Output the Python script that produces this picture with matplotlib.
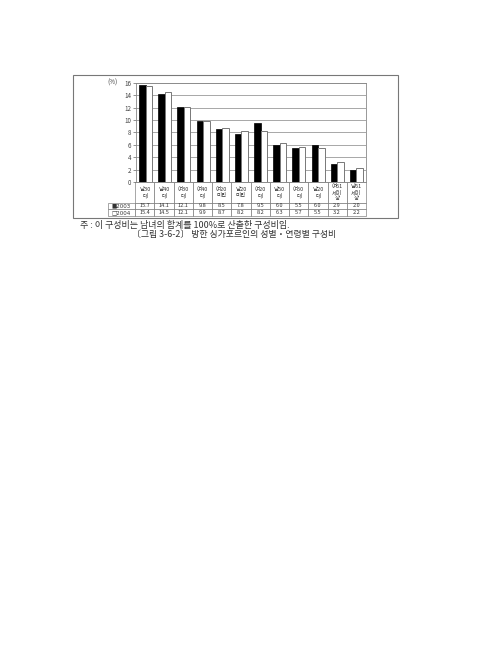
import numpy as np
import matplotlib
matplotlib.use("Agg")
import matplotlib.pyplot as plt
from matplotlib.patches import Rectangle

plt.rcParams['font.family'] = ['Noto Sans CJK KR', 'DejaVu Sans']

categories = ["남30\n대", "남40\n대", "여30\n대", "여40\n대", "여20\n미만", "남20\n미만",
              "여20\n대", "남50\n대", "여50\n대", "남20\n대", "여61\n세이\n상", "남61\n세이\n상"]
vals_2003 = [15.7, 14.1, 12.1, 9.8, 8.5, 7.8, 9.5, 6.0, 5.5, 6.0, 2.9, 2.0]
vals_2004 = [15.4, 14.5, 12.1, 9.9, 8.7, 8.2, 8.2, 6.3, 5.7, 5.5, 3.2, 2.2]
series_labels = ["■2003", "□2004"]
yticks = [0, 2, 4, 6, 8, 10, 12, 14, 16]

W, H = 480, 657
fig = plt.figure(figsize=(W / 100, H / 100), dpi=100)

# plot area in pixel coords of the page
px_l, px_r, px_t, px_b = 136, 366, 82.7, 182
ax = fig.add_axes([px_l / W, 1 - px_b / H, (px_r - px_l) / W, (px_b - px_t) / H])

x = np.arange(len(categories))
bw = 0.34
ax.bar(x - bw / 2, vals_2003, bw, color="black", edgecolor="black", linewidth=0.5, zorder=3)
ax.bar(x + bw / 2, vals_2004, bw, color="white", edgecolor="#777777", linewidth=0.7, zorder=3)

ax.set_xlim(-0.5, len(categories) - 0.5)
ax.set_ylim(0, 16)
ax.set_yticks(yticks)
ax.set_yticklabels([str(t) for t in yticks], fontsize=4.5, color="#444444")
ax.set_xticks([])
ax.tick_params(axis="y", length=2, width=0.5, pad=1.5, color="#666666")
ax.grid(axis="y", color="#999999", linewidth=0.6, zorder=0)
for s in ax.spines.values():
    s.set_color("#888888")
    s.set_linewidth(0.6)
ax.text(-0.078, 16, "(%)", transform=ax.get_yaxis_transform(), ha="right", va="center",
        fontsize=4.5, color="#444444")

# data table under the chart (first column holds the series labels)
tbl_l, tbl_b = 108, 215.7
ax_w, ax_h = px_r - px_l, px_b - px_t
cell_text = [[series_labels[0]] + [f"{v:.1f}" for v in vals_2003],
             [series_labels[1]] + [f"{v:.1f}" for v in vals_2004]]
tbl = ax.table(cellText=cell_text, colLabels=[""] + categories, cellLoc="center",
               bbox=[(tbl_l - px_l) / ax_w, -(tbl_b - px_b) / ax_h,
                     (px_r - tbl_l) / ax_w, (tbl_b - px_b) / ax_h])
tbl.auto_set_font_size(False)
tbl.set_fontsize(4)
for (r, c), cell in tbl.get_celld().items():
    cell.set_linewidth(0.4)
    cell.set_edgecolor("#666666")
    cell.get_text().set_color("#333333")
    cell.set_width(27 if c == 0 else 19.2)
    cell.set_height(20.7 if r == 0 else 6.5)
    cell.PAD = 0.02
    if c == 0 and r > 0:
        cell.get_text().set_family(["DejaVu Sans"])
tbl[(0, 0)].visible_edges = ""

# outer frame
fig.add_artist(Rectangle((73 / W, 1 - 218 / H), (398 - 73) / W, (218 - 75) / H,
                         transform=fig.transFigure, fill=False, ec="#777777", lw=0.8))

fig.text(80 / W, 1 - 225.7 / H, "주 : 이 구성비는 남녀의 합계를 100%로 산출한 구성비임.",
         fontsize=6.5, va="center", ha="left", color="#333333")
fig.text(234 / W, 1 - 234 / H, "〔그림 3-6-2〕 방한 싱가포르인의 성별・연령별 구성비",
         fontsize=6.4, va="center", ha="center", color="#333333")

fig.savefig("out.png", dpi=100)
